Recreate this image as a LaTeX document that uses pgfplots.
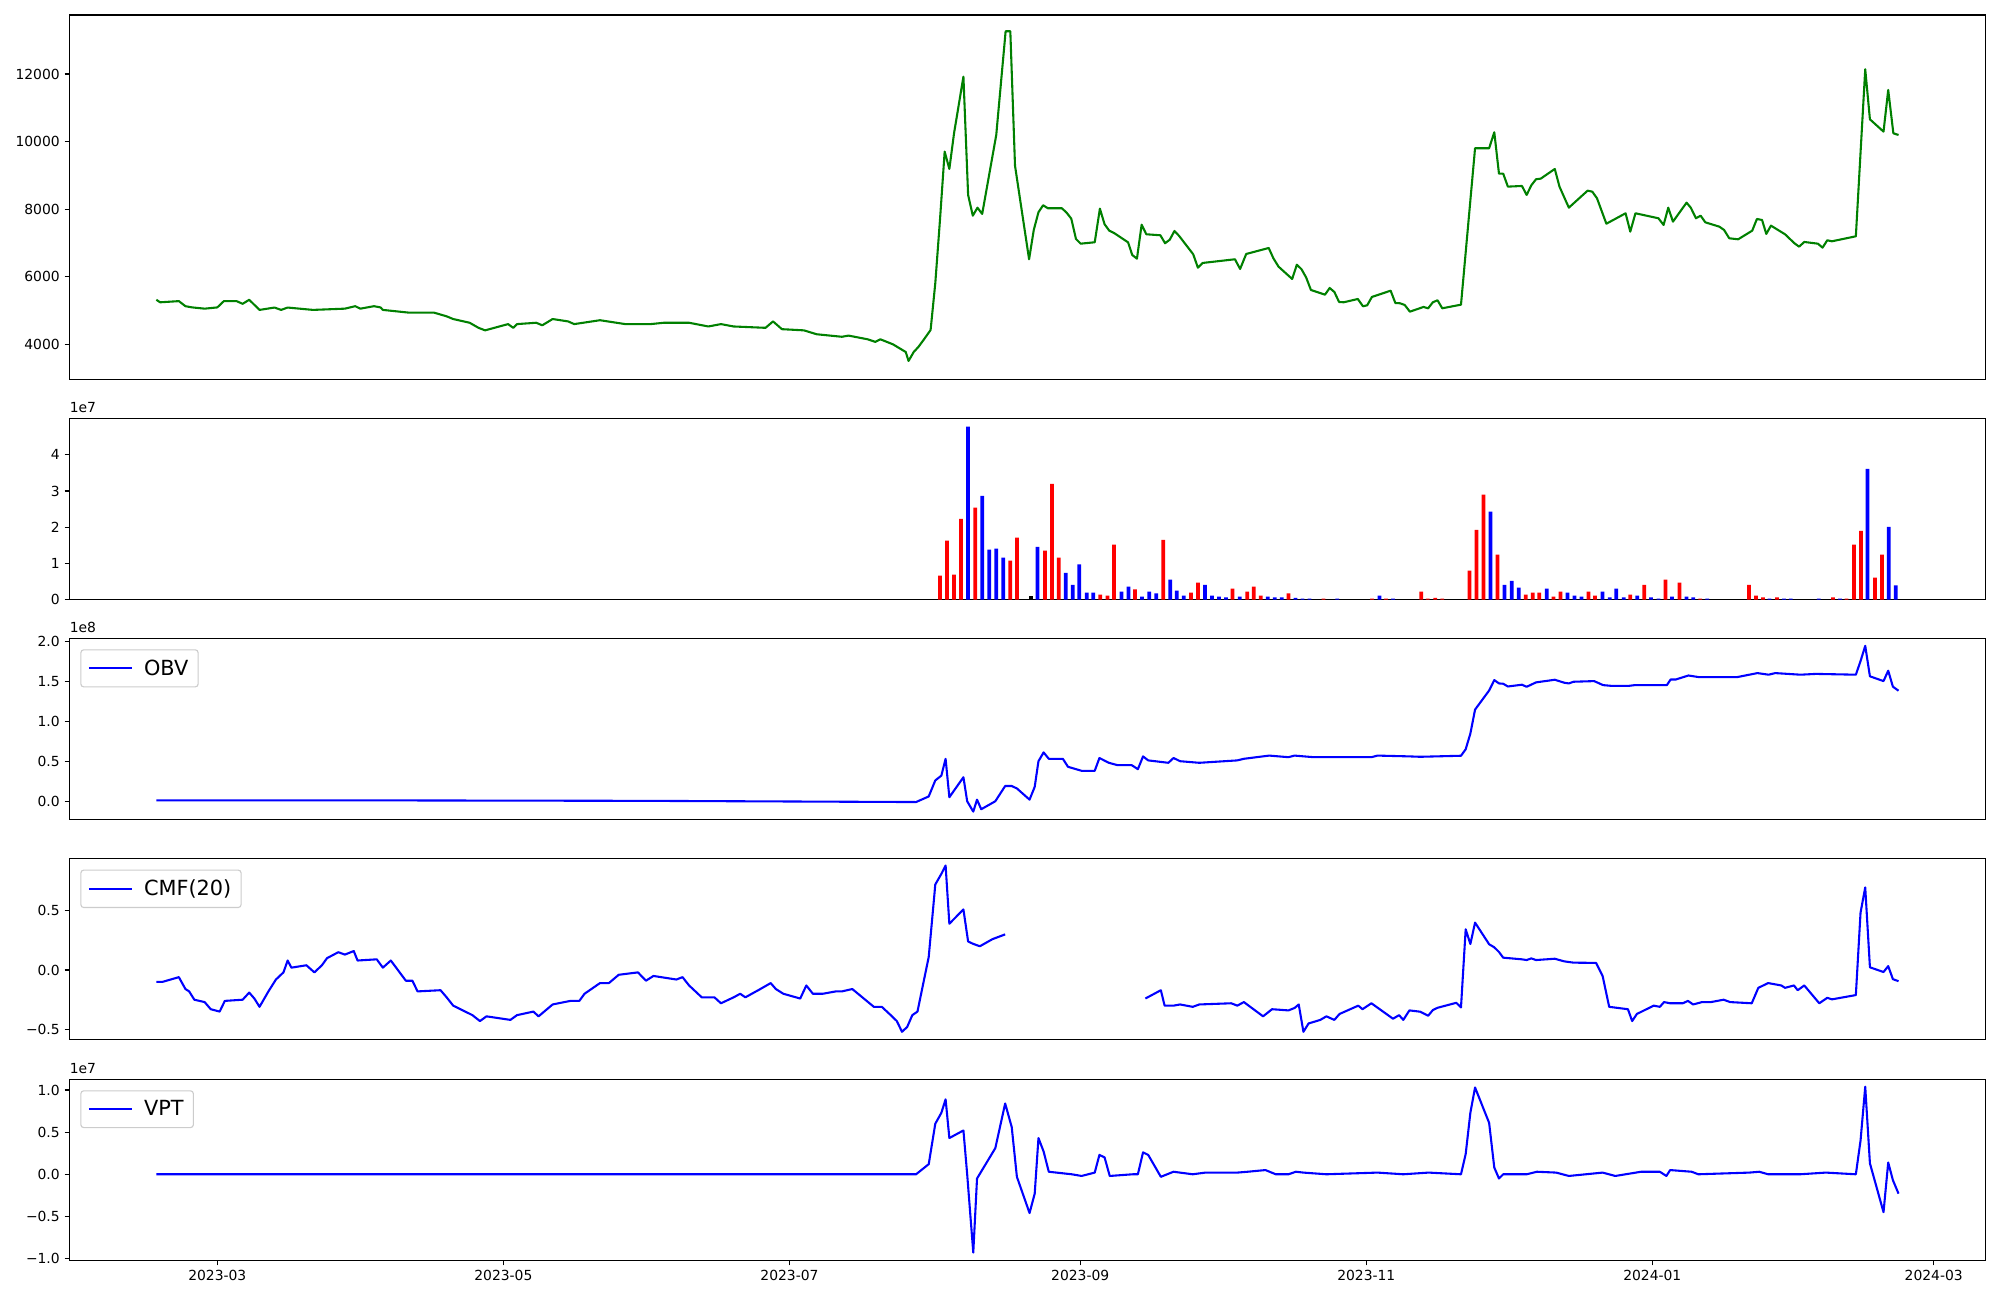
\documentclass[border=0pt]{standalone}
\usepackage{fontspec}
\setmainfont{DejaVu Sans}
\usepackage{pgfplots}
\pgfplotsset{compat=1.18}

\definecolor{mplgreen}{HTML}{008000}
\definecolor{mplblue}{HTML}{0000FF}
\definecolor{mplred}{HTML}{FF0000}

% x axis: days since 2023-01-01
\pgfplotsset{
  panel/.style={
    scale only axis,
    width=1379.2pt,
    xmin=27.48, xmax=435.96,
    xtick=\empty,
    scaled y ticks=false,
    axis line style={line width=0.8pt},
    tick align=outside, tick pos=left,
    major tick length=3.5pt,
    every tick/.style={black, line width=0.8pt},
    tick label style={font=\fontsize{10}{12}\selectfont},
    /pgf/number format/assume math mode=true,
    clip mode=individual,
    anchor=north west,
    legend style={at={(0,1)}, anchor=north west, xshift=7.8pt, yshift=-7.9pt,
      draw=black!20, fill=white, fill opacity=0.8, text opacity=1,
      rounded corners=2pt, line width=0.8pt, column sep=6pt,
      font=\fontsize{15}{18}\selectfont, inner xsep=5pt, inner ysep=5pt},
    legend image code/.code={\draw[#1] (0pt,0pt) -- (31pt,0pt);},
  },
  ln/.style={line width=1.5pt, line join=round},
  vb/.style={ybar, bar width=0.8, bar shift=0pt, draw=none},
}

\begin{document}
\begin{tikzpicture}
\path (-50.04pt,10.8pt) rectangle (1389.96pt,-925.2pt);

% price
\begin{axis}[panel, at={(0,0)}, height=262.3pt,
  ymin=2967, ymax=13745,
  ytick={4000,6000,8000,10000,12000},
  yticklabels={4000,6000,8000,10000,12000}]
\addplot[ln, mplgreen] coordinates {
(46.0,5320) (46.8,5245) (50.8,5280) (52.2,5130) (53.6,5095) (56.3,5057)
(59.0,5094) (60.4,5280) (63.1,5280) (64.4,5200) (65.8,5320) (68.0,5020)
(71.2,5090) (72.6,5020) (74.0,5090) (79.4,5020) (86.2,5057) (88.4,5130)
(89.5,5057) (92.4,5130) (93.8,5094) (94.3,5020) (99.8,4940) (105.2,4940)
(107.9,4830) (109.3,4750) (112.8,4640) (114.7,4490) (116.1,4415) (121.0,4600)
(122.1,4490) (122.9,4600) (127.0,4640) (128.3,4565) (130.5,4750) (133.8,4680)
(135.1,4600) (140.6,4715) (146.0,4600) (151.4,4600) (154.2,4640) (159.6,4640)
(163.7,4530) (166.4,4600) (169.1,4530) (175.9,4490) (177.5,4680) (179.4,4450)
(184.1,4415) (186.8,4300) (192.2,4225) (193.6,4260) (197.7,4150) (199.3,4075)
(200.4,4150) (203.1,4000) (205.8,3775) (206.4,3510) (207.5,3775) (208.5,3925)
(209.7,4151) (211.1,4426) (212.1,5808) (213.1,7681) (214.1,9703) (215.1,9190)
(216.1,10246) (218.1,11921) (219.1,8421) (220.1,7808) (221.1,8045) (222.1,7858)
(225.1,10196) (227.1,13265) (228.1,13265) (229.1,9288) (232.1,6518) (233.1,7385)
(234.1,7909) (235.1,8116) (236.1,8027) (239.1,8027) (240.1,7897) (241.1,7720)
(242.1,7119) (243.1,6980) (246.1,7021) (247.2,8016) (248.2,7554) (249.2,7364)
(250.2,7296) (253.2,7021) (254.1,6645) (255.1,6536) (256.1,7542) (257.1,7258)
(260.1,7228) (261.1,6992) (262.1,7098) (263.1,7356) (264.1,7208) (267.1,6666)
(268.1,6270) (269.1,6409) (276.0,6518) (277.1,6231) (278.4,6675) (283.2,6852)
(284.2,6546) (285.3,6299) (288.2,5935) (289.2,6358) (290.2,6222) (291.2,5974)
(292.2,5610) (295.2,5471) (296.2,5669) (297.2,5550) (298.2,5255) (299.2,5246)
(302.2,5343) (303.3,5127) (304.2,5157) (305.2,5403) (309.2,5589) (310.2,5225)
(311.2,5216) (312.2,5166) (313.3,4968) (316.2,5107) (317.2,5068) (318.2,5246)
(319.2,5305) (320.2,5068) (324.2,5175) (327.2,9803) (330.2,9803) (331.3,10276)
(332.3,9051) (333.2,9051) (334.2,8667) (337.2,8687) (338.2,8421) (339.2,8707)
(340.2,8885) (341.2,8903) (344.2,9190) (345.2,8667) (347.2,8045) (351.2,8548)
(352.2,8518) (353.2,8323) (355.2,7570) (359.3,7879) (360.3,7335) (361.4,7879)
(366.3,7731) (367.4,7533) (368.4,8045) (369.4,7631) (372.3,8193) (373.2,8045)
(374.3,7731) (375.3,7808) (376.3,7611) (379.3,7482) (380.3,7385) (381.4,7139)
(383.3,7109) (386.3,7364) (387.3,7710) (388.4,7681) (389.3,7267) (390.3,7513)
(393.3,7257) (395.3,6992) (396.3,6891) (397.4,7030) (400.3,6980) (401.3,6862)
(402.3,7080) (403.3,7050) (408.4,7198) (410.4,12139) (411.4,10659) (414.3,10294)
(415.3,11527) (416.4,10245) (417.5,10195)
};
\end{axis}

% volume (units of 1e7)
\begin{axis}[panel, at={(0,-290.4pt)}, height=130.5pt,
  ymin=0, ymax=5.01, ytick={0,1,2,3,4}, yticklabels={0,1,2,3,4}]
\addplot[vb, fill=mplred] coordinates {
(213.1,0.66) (214.6,1.63) (216.1,0.69) (217.6,2.23) (220.6,2.54) (228.1,1.08)
(229.5,1.71) (235.5,1.35) (237.0,3.20) (238.4,1.16) (247.3,0.14) (248.8,0.11)
(250.2,1.52) (254.7,0.28) (260.7,1.65) (266.6,0.19) (268.1,0.47) (275.5,0.30)
(278.6,0.22) (280.0,0.36) (281.5,0.11) (287.4,0.17) (294.9,0.03) (305.2,0.03)
(308.2,0.03) (315.7,0.22) (317.1,0.03) (318.7,0.05) (320.2,0.03) (326.0,0.80)
(327.5,1.93) (329.0,2.90) (332.0,1.24) (338.0,0.14) (339.5,0.19) (340.9,0.19)
(343.9,0.08) (345.4,0.22) (351.4,0.22) (352.8,0.11) (360.3,0.14) (363.3,0.41)
(367.8,0.55) (370.8,0.47) (375.2,0.03) (385.6,0.41) (387.1,0.11) (388.6,0.06)
(391.6,0.06) (403.5,0.06) (406.4,0.03) (408.0,1.52) (409.5,1.90) (412.5,0.61)
(414.0,1.24)
};
\addplot[vb, fill=mplblue] coordinates {
(219.1,4.78) (222.1,2.87) (223.6,1.38) (225.1,1.41) (226.6,1.16) (233.9,1.46)
(239.9,0.74) (241.4,0.41) (242.8,0.97) (244.4,0.19) (245.8,0.19) (251.8,0.22)
(253.3,0.36) (256.2,0.08) (257.7,0.22) (259.2,0.17) (262.2,0.55) (263.6,0.25)
(265.1,0.11) (269.6,0.41) (271.1,0.11) (272.6,0.08) (274.1,0.06) (277.0,0.08)
(283.0,0.08) (284.5,0.06) (286.0,0.06) (288.9,0.05) (290.4,0.03) (291.9,0.03)
(297.8,0.03) (306.8,0.11) (309.7,0.03) (330.5,2.43) (333.5,0.41) (335.0,0.52)
(336.5,0.33) (342.5,0.30) (346.9,0.19) (348.4,0.11) (349.9,0.08) (354.4,0.22)
(355.9,0.06) (357.3,0.30) (358.9,0.06) (361.8,0.11) (364.7,0.06) (366.3,0.03)
(369.2,0.08) (372.3,0.08) (373.7,0.06) (376.7,0.03) (390.0,0.03) (393.1,0.03)
(394.5,0.03) (400.5,0.03) (405.0,0.03) (410.9,3.61) (415.4,2.01) (416.9,0.39)
};
\addplot[vb, fill=black] coordinates {(232.5,0.11)};
\node[anchor=south west, inner sep=0pt, font=\fontsize{10}{12}\selectfont]
  at (rel axis cs:0,1) [yshift=3.6pt] {1e7};
\end{axis}

% OBV (units of 1e8)
\begin{axis}[panel, at={(0,-448.8pt)}, height=130.5pt,
  ymin=-0.229, ymax=2.034, ytick={0,0.5,1,1.5,2},
  yticklabels={0.0,0.5,1.0,1.5,2.0}]
\addplot[ln, mplblue] coordinates {
(46.0,0.01) (100.0,0.01) (150.0,0.005) (208.0,-0.01) (210.7,0.06) (212.1,0.26)
(213.4,0.32) (214.3,0.53) (215.1,0.05) (218.1,0.30) (218.9,0.0) (220.2,-0.13)
(221.0,0.02) (221.9,-0.10) (224.9,0.0) (227.0,0.19) (228.4,0.19) (229.5,0.16)
(232.2,0.02) (233.3,0.18) (234.1,0.50) (235.2,0.61) (236.3,0.53) (239.3,0.53)
(240.4,0.43) (243.3,0.38) (246.1,0.38) (247.1,0.54) (249.1,0.48) (251.0,0.45)
(254.0,0.45) (255.3,0.40) (256.4,0.56) (257.5,0.51) (261.8,0.48) (262.9,0.54)
(264.3,0.50) (268.4,0.48) (276.5,0.51) (277.9,0.53) (283.3,0.57) (287.4,0.55)
(288.7,0.57) (292.8,0.55) (305.1,0.55) (306.4,0.57) (313.2,0.56) (315.5,0.555)
(324.2,0.568) (325.2,0.649) (326.2,0.845) (327.2,1.144) (330.2,1.383) (331.3,1.513)
(332.3,1.471) (333.2,1.467) (334.2,1.433) (337.2,1.455) (338.2,1.429) (340.2,1.484)
(344.2,1.517) (346.2,1.480) (347.2,1.471) (348.2,1.492) (352.6,1.50) (354.5,1.45)
(356.4,1.44) (359.9,1.44) (361.3,1.45) (368.1,1.45) (368.9,1.52) (370.0,1.52)
(372.7,1.57) (374.9,1.55) (383.1,1.55) (387.4,1.60) (389.8,1.58) (391.2,1.60)
(396.6,1.58) (399.9,1.59) (408.4,1.58) (409.4,1.75) (410.4,1.94) (411.4,1.56)
(414.3,1.50) (415.3,1.63) (416.3,1.43) (417.5,1.38)
};
\addlegendentry{OBV}
\node[anchor=south west, inner sep=0pt, font=\fontsize{10}{12}\selectfont]
  at (rel axis cs:0,1) [yshift=3.6pt] {1e8};
\end{axis}

% CMF(20)
\begin{axis}[panel, at={(0,-607.4pt)}, height=130.5pt,
  ymin=-0.588, ymax=0.938, ytick={-0.5,0,0.5},
  yticklabels={−0.5,0.0,0.5}]
\addplot[ln, mplblue] coordinates {
(46.0,-0.10) (47.3,-0.10) (50.8,-0.06) (52.2,-0.16) (53.0,-0.18) (54.1,-0.25)
(56.3,-0.27) (57.6,-0.33) (59.5,-0.35) (60.6,-0.26) (64.4,-0.25) (65.8,-0.19)
(66.9,-0.24) (68.0,-0.31) (69.9,-0.18) (71.5,-0.08) (73.1,-0.02) (74.0,0.08)
(74.8,0.02) (78.0,0.04) (79.7,-0.02) (81.3,0.04) (82.4,0.10) (84.8,0.15)
(86.2,0.13) (88.1,0.16) (88.9,0.08) (93.0,0.09) (94.3,0.02) (96.0,0.08)
(99.2,-0.09) (100.6,-0.09) (101.7,-0.18) (106.6,-0.17) (107.9,-0.23) (109.3,-0.30)
(113.4,-0.38) (115.0,-0.43) (116.4,-0.39) (121.5,-0.42) (122.9,-0.38) (126.4,-0.35)
(127.5,-0.39) (130.5,-0.29) (134.3,-0.26) (136.2,-0.26) (137.3,-0.20) (140.6,-0.11)
(142.5,-0.11) (144.6,-0.04) (148.7,-0.02) (150.4,-0.09) (152.0,-0.05) (156.9,-0.08)
(158.2,-0.06) (159.6,-0.13) (162.3,-0.23) (165.0,-0.23) (166.4,-0.28) (169.1,-0.23)
(170.5,-0.20) (171.6,-0.23) (174.8,-0.16) (177.0,-0.11) (178.1,-0.16) (179.7,-0.20)
(183.3,-0.24) (184.6,-0.13) (186.0,-0.20) (188.1,-0.20) (190.9,-0.18) (192.2,-0.18)
(194.4,-0.16) (199.0,-0.31) (200.7,-0.31) (202.6,-0.38) (203.9,-0.43) (205.0,-0.52)
(206.1,-0.48) (207.2,-0.38) (208.3,-0.35) (210.7,0.11) (212.1,0.72) (213.4,0.81)
(214.3,0.88) (215.1,0.39) (218.1,0.51) (219.1,0.24) (220.2,0.22) (221.6,0.20)
(224.3,0.26) (227.0,0.30)
};
\addlegendentry{CMF(20)}
\addplot[ln, mplblue, forget plot] coordinates {
(256.9,-0.24) (260.2,-0.17) (261.0,-0.30) (262.9,-0.30) (264.3,-0.29) (267.0,-0.31)
(268.4,-0.29) (275.2,-0.28) (276.5,-0.30) (277.9,-0.27) (282.0,-0.39) (283.9,-0.33)
(287.4,-0.34) (288.7,-0.32) (289.6,-0.29) (290.6,-0.52) (291.7,-0.45) (294.2,-0.42)
(295.5,-0.39) (297.2,-0.42) (298.3,-0.37) (302.3,-0.30) (303.2,-0.33) (305.1,-0.28)
(309.7,-0.41) (311.0,-0.38) (311.9,-0.42) (313.2,-0.34) (315.5,-0.351) (317.2,-0.385)
(318.2,-0.337) (319.2,-0.318) (323.2,-0.276) (324.2,-0.315) (325.2,0.343) (326.2,0.219)
(327.2,0.399) (330.2,0.217) (331.3,0.191) (332.3,0.152) (333.2,0.104) (337.2,0.090)
(338.2,0.084) (339.2,0.098) (340.2,0.084) (344.2,0.095) (346.2,0.073) (348.2,0.062)
(353.0,0.06) (354.4,-0.05) (355.8,-0.31) (359.8,-0.33) (360.7,-0.43) (361.7,-0.37)
(365.3,-0.30) (366.6,-0.31) (367.5,-0.27) (368.8,-0.28) (371.5,-0.28) (372.6,-0.26)
(373.7,-0.29) (375.6,-0.27) (377.5,-0.27) (380.2,-0.25) (381.6,-0.27) (386.2,-0.28)
(387.6,-0.15) (389.7,-0.11) (392.5,-0.13) (393.3,-0.15) (395.2,-0.13) (396.0,-0.17)
(397.4,-0.13) (400.6,-0.28) (402.3,-0.234) (403.3,-0.247) (408.4,-0.211) (409.4,0.483)
(410.4,0.696) (411.4,0.023) (414.3,-0.017) (415.3,0.033) (416.3,-0.077) (417.5,-0.094)
};
\end{axis}

% VPT (units of 1e7)
\begin{axis}[panel, at={(0,-766.3pt)}, height=130.5pt,
  ymin=-1.024, ymax=1.127, ytick={-1,-0.5,0,0.5,1},
  yticklabels={−1.0,−0.5,0.0,0.5,1.0},
  xtick={59,120,181,243,304,365,425},
  xticklabels={2023-03,2023-05,2023-07,2023-09,2023-11,2024-01,2024-03}]
\addplot[ln, mplblue] coordinates {
(46.0,0) (208.0,0) (210.7,0.12) (212.1,0.60) (213.4,0.73) (214.3,0.89)
(215.1,0.43) (218.1,0.52) (218.9,0.0) (220.2,-0.93) (221.0,-0.05) (224.9,0.31)
(227.0,0.84) (228.4,0.56) (229.5,-0.03) (232.2,-0.46) (233.3,-0.23) (234.1,0.43)
(235.2,0.27) (236.3,0.03) (241.2,0.0) (243.3,-0.02) (246.1,0.02) (247.1,0.23)
(248.2,0.20) (249.3,-0.02) (254.2,0.0) (255.3,0.0) (256.4,0.26) (257.5,0.23)
(260.2,-0.03) (262.9,0.03) (267.0,0.0) (269.7,0.02) (276.5,0.02) (278.7,0.03)
(282.5,0.05) (284.7,0.0) (287.4,0.0) (289.0,0.03) (290.6,0.02) (295.5,0.0)
(306.4,0.02) (311.9,0.0) (317.3,0.02) (324.2,0.0) (325.2,0.24) (326.2,0.73)
(327.2,1.03) (330.2,0.61) (331.3,0.08) (332.3,-0.05) (333.2,0.0) (338.2,0.0)
(340.4,0.03) (344.5,0.02) (347.2,-0.02) (354.4,0.02) (357.1,-0.02) (362.6,0.03)
(366.6,0.03) (368.0,-0.02) (368.8,0.05) (373.4,0.03) (374.8,0.0) (385.7,0.02)
(387.8,0.03) (389.7,0.0) (396.5,0.0) (402.0,0.02) (408.4,0.0) (409.4,0.40)
(410.4,1.04) (411.4,0.13) (414.3,-0.45) (415.3,0.14) (416.3,-0.07) (417.5,-0.23)
};
\addlegendentry{VPT}
\node[anchor=south west, inner sep=0pt, font=\fontsize{10}{12}\selectfont]
  at (rel axis cs:0,1) [yshift=3.6pt] {1e7};
\end{axis}
\end{tikzpicture}
\end{document}
